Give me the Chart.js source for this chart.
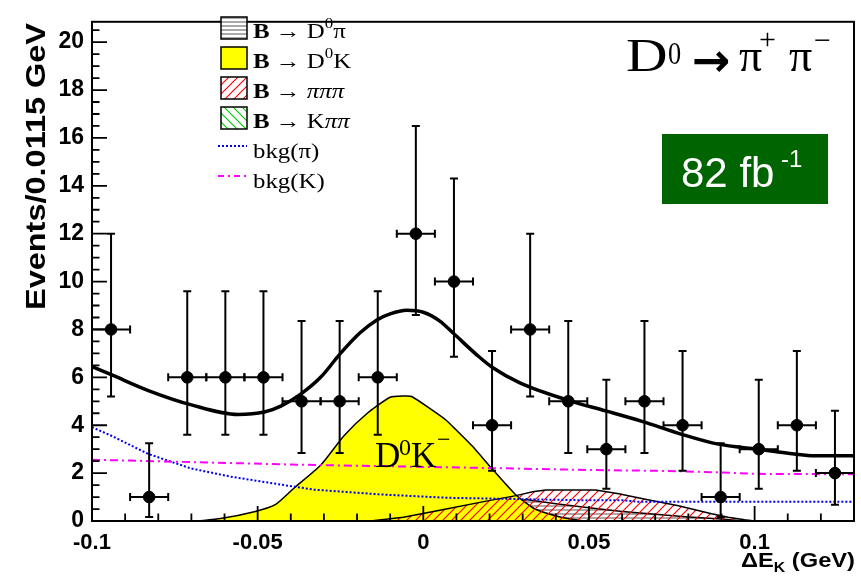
<!DOCTYPE html>
<html>
<head>
<meta charset="utf-8">
<script src="https://cdn.jsdelivr.net/npm/chart.js@4.4.1/dist/chart.umd.min.js"></script>
<style>
  html, body { margin: 0; padding: 0; background: #fff; }
  #wrap { width: 861px; height: 576px; position: relative; }
</style>
</head>
<body>
<div id="wrap"><canvas id="c"></canvas></div>
<script>
// --- data ---
const xMin = -0.1, xMax = 0.13, yMin = 0, yMax = 20.85;
const xTickValues = [-0.1, -0.05, 0, 0.05, 0.1];
const xTickLabels = ['-0.1', '-0.05', '0', '0.05', '0.1'];
const yTickValues = [0, 2, 4, 6, 8, 10, 12, 14, 16, 18, 20];
const yTickLabels = ['0', '2', '4', '6', '8', '10', '12', '14', '16', '18', '20'];

// data points, bins of 0.0115 GeV
const binCenters = [-0.09425, -0.08275, -0.07125, -0.05975, -0.04825, -0.03675, -0.02525, -0.01375, -0.00225, 0.00925,
                    0.02075, 0.03225, 0.04375, 0.05525, 0.06675, 0.07825, 0.08975, 0.10125, 0.11275, 0.12425];
const counts    = [8, 1, 6, 6, 6, 5, 5, 6, 12, 10, 4, 8, 5, 3, 5, 4, 1, 3, 4, 2];
const errLowEnd = [5.2, 0.17, 3.6, 3.6, 3.6, 2.84, 2.84, 3.6, 8.6, 6.86, 2.1, 5.2, 2.84, 1.35, 2.84, 2.1, 0.17, 1.35, 2.1, 0.68];
const errHighEnd = [12.0, 3.25, 9.6, 9.6, 9.6, 8.35, 8.35, 9.6, 16.5, 14.3, 7.1, 12.0, 8.35, 5.9, 8.35, 7.1, 3.25, 5.9, 7.1, 4.6];
const binHalfWidth = 0.00575;

// total fit
const fitX = [-0.1, -0.094, -0.083, -0.070, -0.056, -0.048, -0.043, -0.037, -0.031, -0.025, -0.019, -0.014, -0.010, -0.005,
              0.0, 0.005, 0.009, 0.0168, 0.021, 0.029, 0.044, 0.055, 0.066, 0.078, 0.089, 0.101, 0.112, 0.118, 0.13];
const fitY = [6.45, 6.1, 5.45, 4.85, 4.45, 4.55, 4.8, 5.3, 6.0, 7.0, 7.87, 8.4, 8.65, 8.8,
              8.72, 8.35, 7.85, 6.86, 6.4, 5.78, 5.03, 4.6, 4.16, 3.62, 3.21, 3.0, 2.8, 2.73, 2.73];

// B -> D0 K
const d0kX = [-0.068, -0.0612, -0.0507, -0.0447, -0.039, -0.031, -0.024, -0.017, -0.010, -0.0057, -0.0035, 0.0027,
              0.0068, 0.0098, 0.0147, 0.0207, 0.0278, 0.0337, 0.0416, 0.0487];
const d0kY = [0, 0.1, 0.4, 0.68, 1.38, 2.33, 3.55, 4.49, 5.17, 5.22, 5.2, 4.63, 4.22, 3.82, 3.14, 2.19, 1.11, 0.5, 0.16, 0];

// B -> pi pi pi (stack top)
const pipipiX = [-0.016, -0.006, 0.005, 0.019, 0.028, 0.033, 0.037, 0.052, 0.059, 0.067, 0.077, 0.087, 0.092, 0.097, 0.1];
const pipipiY = [0, 0.16, 0.45, 0.83, 1.06, 1.22, 1.29, 1.29, 1.14, 0.91, 0.64, 0.3, 0.16, 0.05, 0];

// B -> D0 pi
const d0piX = [0.015, 0.025, 0.031, 0.04, 0.05, 0.06, 0.07, 0.08, 0.09, 0.097];
const d0piY = [0.3, 0.7, 0.9, 0.72, 0.55, 0.4, 0.28, 0.17, 0.08, 0];

// backgrounds
const bkgPiX = [-0.1, -0.094, -0.083, -0.070, -0.058, -0.043, -0.033, -0.013, 0.007, 0.015, 0.047, 0.06, 0.065, 0.13];
const bkgPiY = [3.92, 3.55, 2.8, 2.19, 1.85, 1.52, 1.31, 1.11, 0.97, 0.95, 0.87, 0.87, 0.8, 0.8];
const bkgKX = [-0.1, -0.07, -0.037, 0.017, 0.05, 0.074, 0.09, 0.1, 0.13];
const bkgKY = [2.56, 2.46, 2.35, 2.22, 2.13, 2.09, 2.03, 1.97, 1.95];

const pts = (xs, ys) => xs.map((x, i) => ({ x, y: ys[i] }));

// --- hatch patterns ---
const canvas = document.getElementById('c');
const mainCtx = canvas.getContext('2d');
function makeHatch(color, dir, size, lw) {
  const t = document.createElement('canvas');
  t.width = size; t.height = size;
  const g = t.getContext('2d');
  g.strokeStyle = color; g.lineWidth = lw;
  g.beginPath();
  if (dir === '/') {
    g.moveTo(0, size); g.lineTo(size, 0);
    g.moveTo(-size / 2, size / 2); g.lineTo(size / 2, -size / 2);
    g.moveTo(size / 2, size * 1.5); g.lineTo(size * 1.5, size / 2);
  } else if (dir === '\\') {
    g.moveTo(0, 0); g.lineTo(size, size);
    g.moveTo(-size / 2, size / 2); g.lineTo(size / 2, size * 1.5);
    g.moveTo(size / 2, -size / 2); g.lineTo(size * 1.5, size / 2);
  } else {
    g.moveTo(0, size / 2); g.lineTo(size, size / 2);
  }
  g.stroke();
  return mainCtx.createPattern(t, 'repeat');
}
const redHatch = makeHatch('#ff0000', '/', 9, 1.2);
const greenHatch = makeHatch('#00cc00', '\\', 9, 1.2);
const grayHatch = makeHatch('#555555', '-', 4, 1);

const BLUE = '#0000ee', MAGENTA = '#ff00ff';
const SERIF = '"Liberation Serif", "DejaVu Serif", serif';
const SANS = '"Liberation Sans", Arial, sans-serif';

// --- drawing helpers (ROOT text is a bit wider than normal, so allow a horizontal stretch) ---
function drawParts(ctx, x, y, parts, sx) {
  sx = sx || 1;
  let cx = x;
  parts.forEach(p => {
    ctx.font = p.font;
    ctx.save();
    ctx.translate(cx, y + (p.dy || 0));
    ctx.scale(sx, 1);
    ctx.fillText(p.t, 0, 0);
    ctx.restore();
    cx += (ctx.measureText(p.t).width + (p.gap || 0)) * sx;
  });
  return cx;
}
function partsWidth(ctx, parts) {
  let w = 0;
  parts.forEach(p => { ctx.font = p.font; w += ctx.measureText(p.t).width + (p.gap || 0); });
  return w;
}

const legF = '22px ' + SERIF, legB = 'bold 22px ' + SERIF, legS = '15px ' + SERIF, legI = 'italic 22px ' + SERIF;
const legendRows = [
  { swatch: 'gray', parts: [{ t: 'B', font: legB }, { t: ' \u2192 ', font: legF }, { t: 'D', font: legF }, { t: '0', font: legS, dy: -10 }, { t: '\u03c0', font: legF }] },
  { swatch: 'yellow', parts: [{ t: 'B', font: legB }, { t: ' \u2192 ', font: legF }, { t: 'D', font: legF }, { t: '0', font: legS, dy: -10 }, { t: 'K', font: legF }] },
  { swatch: 'red', parts: [{ t: 'B', font: legB }, { t: ' \u2192 ', font: legF }, { t: '\u03c0\u03c0\u03c0', font: legI }] },
  { swatch: 'green', parts: [{ t: 'B', font: legB }, { t: ' \u2192 ', font: legF }, { t: 'K', font: legF }, { t: '\u03c0\u03c0', font: legI }] },
  { swatch: 'blue', parts: [{ t: 'bkg(\u03c0)', font: legF }] },
  { swatch: 'magenta', parts: [{ t: 'bkg(K)', font: legF }] }
];

const overlay = {
  id: 'overlay',
  afterDatasetsDraw(chart) {
    const ctx = chart.ctx, xs = chart.scales.x, ys = chart.scales.y;
    ctx.save();
    ctx.strokeStyle = '#000';
    ctx.lineWidth = 2;
    binCenters.forEach((c, i) => {
      const px = xs.getPixelForValue(c), py = ys.getPixelForValue(counts[i]);
      const pl = xs.getPixelForValue(c - binHalfWidth), pr = xs.getPixelForValue(c + binHalfWidth);
      const pLo = ys.getPixelForValue(errLowEnd[i]), pHi = ys.getPixelForValue(errHighEnd[i]);
      ctx.beginPath();
      ctx.moveTo(px, pLo); ctx.lineTo(px, pHi);
      ctx.moveTo(px - 4, pLo); ctx.lineTo(px + 4, pLo);
      ctx.moveTo(px - 4, pHi); ctx.lineTo(px + 4, pHi);
      ctx.moveTo(pl, py); ctx.lineTo(pr, py);
      ctx.moveTo(pl, py - 4); ctx.lineTo(pl, py + 4);
      ctx.moveTo(pr, py - 4); ctx.lineTo(pr, py + 4);
      ctx.stroke();
    });
    ctx.restore();
  },
  afterDraw(chart) {
    const ctx = chart.ctx, a = chart.chartArea, xs = chart.scales.x, ys = chart.scales.y;
    ctx.save();
    // frame
    ctx.strokeStyle = '#000';
    ctx.lineWidth = 2;
    ctx.strokeRect(a.left, a.top, a.right - a.left, a.bottom - a.top);
    // ticks (inside)
    ctx.lineWidth = 1.8;
    ctx.beginPath();
    for (let k = 0; k <= 41; k++) {
      const p = ys.getPixelForValue(k * 0.5);
      const len = (k % 4 === 0) ? 15 : 7.5;
      ctx.moveTo(a.left, p); ctx.lineTo(a.left + len, p);
    }
    for (let k = 0; k <= 23; k++) {
      const p = xs.getPixelForValue(xMin + k * 0.01);
      const len = (k % 5 === 0) ? 15 : 7.5;
      ctx.moveTo(p, a.bottom); ctx.lineTo(p, a.bottom - len);
    }
    ctx.stroke();

    // y axis title, stretched to the length it has in the original
    ctx.fillStyle = '#000';
    ctx.save();
    ctx.font = 'bold 27px ' + SANS;
    const yt = 'Events/0.0115 GeV';
    const ytw = ctx.measureText(yt).width;
    ctx.translate(45, 310);
    ctx.rotate(-Math.PI / 2);
    ctx.scale(287 / ytw, 1);
    ctx.textAlign = 'left';
    ctx.fillText(yt, 0, 0);
    ctx.restore();

    // x axis title
    const xt = [{ t: '\u0394E', font: 'bold 21px ' + SANS }, { t: 'K', font: 'bold 14px ' + SANS, dy: 5 }, { t: ' (GeV)', font: 'bold 21px ' + SANS }];
    const xsx = 114 / partsWidth(ctx, xt);
    drawParts(ctx, 741, 567, xt, xsx);

    // legend
    legendRows.forEach((r, i) => {
      const top = 17 + i * 30, base = 38 + i * 30;
      const sx = 221, sw = 26, sh = 22;
      ctx.lineWidth = 1.5;
      ctx.strokeStyle = '#000';
      if (r.swatch === 'blue' || r.swatch === 'magenta') {
        ctx.beginPath();
        ctx.strokeStyle = r.swatch === 'blue' ? BLUE : MAGENTA;
        ctx.lineWidth = 2;
        ctx.setLineDash(r.swatch === 'blue' ? [2, 2] : [6, 4, 2, 4]);
        ctx.moveTo(sx - 3, top + 9); ctx.lineTo(sx + sw, top + 9);
        ctx.stroke();
        ctx.setLineDash([]);
      } else {
        ctx.fillStyle = r.swatch === 'yellow' ? '#ffff00' : '#ffffff';
        ctx.fillRect(sx, top, sw, sh);
        if (r.swatch !== 'yellow') {
          ctx.fillStyle = r.swatch === 'gray' ? grayHatch : r.swatch === 'red' ? redHatch : greenHatch;
          ctx.fillRect(sx, top, sw, sh);
        }
        ctx.strokeRect(sx, top, sw, sh);
      }
      ctx.fillStyle = '#000';
      drawParts(ctx, 253, base, r.parts, 1.13);
    });

    // decay title
    ctx.fillStyle = '#000';
    drawParts(ctx, 626, 71, [{ t: 'D', font: '46px ' + SERIF }], 1.25);
    drawParts(ctx, 668, 64, [{ t: '0', font: '31px ' + SERIF }], 0.85);
    ctx.font = 'bold 46px "DejaVu Sans", sans-serif'; ctx.fillText('\u2192', 692, 76);
    ctx.font = '46px ' + SERIF; ctx.fillText('\u03c0', 739, 71);
    ctx.font = '30px ' + SERIF; ctx.fillText('+', 759, 49);
    ctx.font = '46px ' + SERIF; ctx.fillText('\u03c0', 789, 71);
    ctx.font = '30px ' + SERIF; ctx.fillText('\u2212', 814, 50);

    // luminosity box
    ctx.fillStyle = '#006400';
    ctx.fillRect(662, 134, 166, 70);
    ctx.fillStyle = '#ffffff';
    ctx.font = '42px ' + SANS; ctx.fillText('82 fb', 681, 187);
    ctx.font = '24px ' + SANS; ctx.fillText('-1', 781, 167);

    // signal label
    ctx.fillStyle = '#000';
    ctx.font = '35px ' + SERIF; ctx.fillText('D', 375, 467);
    ctx.font = '24px ' + SERIF; ctx.fillText('0', 399, 455);
    ctx.font = '35px ' + SERIF; ctx.fillText('K', 411, 467);
    ctx.font = '24px ' + SERIF; ctx.fillText('\u2212', 437, 447);
    ctx.restore();
  }
};

const tickFont = { family: SANS, weight: 'bold', size: 22 };

new Chart(canvas, {
  type: 'line',
  data: {
    datasets: [
      { type: 'scatter', label: 'data', data: pts(binCenters, counts), order: 1,
        pointRadius: 5.8, pointBackgroundColor: '#000', pointBorderColor: '#000', pointHoverRadius: 5.8 },
      { label: 'fit', data: pts(fitX, fitY), order: 2, borderColor: '#000', borderWidth: 3.5,
        pointRadius: 0, cubicInterpolationMode: 'monotone', fill: false },
      { label: 'bkg(K)', data: pts(bkgKX, bkgKY), order: 3, borderColor: MAGENTA, borderWidth: 2,
        borderDash: [8, 4, 2, 4], pointRadius: 0, fill: false },
      { label: 'bkg(pi)', data: pts(bkgPiX, bkgPiY), order: 4, borderColor: BLUE, borderWidth: 2,
        borderDash: [2, 2], pointRadius: 0, fill: false },
      { label: 'B->pipipi', data: pts(pipipiX, pipipiY), order: 5, borderColor: '#000', borderWidth: 1.5,
        backgroundColor: redHatch, pointRadius: 0, fill: 'origin' },
      { label: 'B->D0K', data: pts(d0kX, d0kY), order: 6, borderColor: '#000', borderWidth: 1.5,
        backgroundColor: '#ffff00', pointRadius: 0, fill: 'origin', tension: 0.2 },
      { label: 'B->D0pi', data: pts(d0piX, d0piY), order: 7, borderColor: '#000', borderWidth: 1.5,
        backgroundColor: grayHatch, pointRadius: 0, fill: 'origin' }
    ]
  },
  options: {
    responsive: true,
    maintainAspectRatio: false,
    animation: false,
    events: [],
    layout: { autoPadding: false, padding: { left: 0, right: 7, top: 7, bottom: 0 } },
    plugins: { legend: { display: false }, title: { display: false }, tooltip: { enabled: false } },
    scales: {
      x: {
        type: 'linear', min: xMin, max: xMax,
        afterBuildTicks: s => { s.ticks = xTickValues.map(v => ({ value: v })); },
        afterFit: s => { s.height = 55; },
        grid: { display: false, drawTicks: false },
        border: { display: false },
        ticks: {
          callback: v => xTickLabels[xTickValues.indexOf(v)],
          font: tickFont, color: '#000', padding: 9, maxRotation: 0, autoSkip: false
        }
      },
      y: {
        type: 'linear', min: yMin, max: yMax,
        afterBuildTicks: s => { s.ticks = yTickValues.map(v => ({ value: v })); },
        afterFit: s => { s.width = 92; },
        grid: { display: false, drawTicks: false },
        border: { display: false },
        ticks: {
          callback: v => yTickLabels[yTickValues.indexOf(v)],
          font: { family: SANS, weight: 'bold', size: 23 }, color: '#000', padding: 8, autoSkip: false
        }
      }
    }
  },
  plugins: [overlay]
});
</script>
</body>
</html>
